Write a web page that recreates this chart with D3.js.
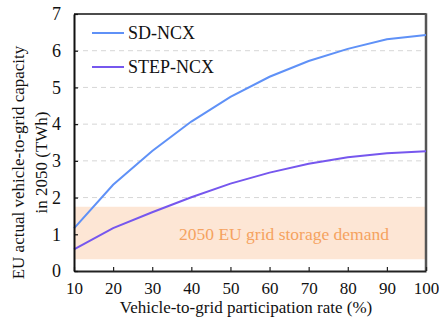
<!DOCTYPE html>
<html>
<head>
<meta charset="utf-8">
<script src="https://cdn.jsdelivr.net/npm/d3@7"></script>
</head>
<body style="margin:0;padding:0;background:#fff">
<svg id="chart" width="439" height="324" style="display:block;font-family:'Times New Roman',Tinos,'Liberation Serif',serif"></svg>
<script>
// Participation rates (%) and V2G capacity (TWh) for each scenario
const rates = [10, 20, 30, 40, 50, 60, 70, 80, 90, 100];
const sdNcx = [1.16, 2.35, 3.27, 4.07, 4.74, 5.29, 5.72, 6.05, 6.31, 6.43];
const stepNcx = [0.59, 1.17, 1.60, 2.01, 2.38, 2.68, 2.92, 3.10, 3.21, 3.26];
const seriesNames = ["SD-NCX", "STEP-NCX"];
const seriesColors = ["#5f91f7", "#7657ee"];
const yTicks = [0, 1, 2, 3, 4, 5, 6, 7];
// Grid storage demand range (TWh)
const demandRange = [0.32, 1.75];
const demandLabel = "2050 EU grid storage demand";

const SERIF = "'Times New Roman', Tinos, 'Liberation Serif', serif";
const svg = d3.select("#chart");
const m = { left: 74, right: 13, top: 14, bottom: 53 };
const W = 439, H = 324;
const x = d3.scaleLinear().domain([10, 100]).range([m.left, W - m.right]);
const y = d3.scaleLinear().domain([0, 7]).range([H - m.bottom, m.top]);

// dashed horizontal gridlines
svg.append("g").selectAll("line")
  .data(yTicks.filter(d => d > 0 && d < 7))
  .join("line")
  .attr("x1", x(10)).attr("x2", x(100))
  .attr("y1", d => y(d)).attr("y2", d => y(d))
  .attr("stroke", "#d6d6d6").attr("stroke-width", 1)
  .attr("stroke-dasharray", "5,4");

// demand band
svg.append("rect")
  .attr("x", x(10)).attr("width", x(100) - x(10))
  .attr("y", y(demandRange[1])).attr("height", y(demandRange[0]) - y(demandRange[1]))
  .attr("fill", "#fde6d5");
svg.append("text")
  .attr("x", 179).attr("y", y(0.84))
  .attr("font-size", 17.5)
  .style("font-family", SERIF)
  .attr("fill", "#f5a25f")
  .text(demandLabel);

// frame: top thin, right thick grey
svg.append("line").attr("x1", x(10)).attr("x2", x(100)).attr("y1", y(7)).attr("y2", y(7))
  .attr("stroke", "#111").attr("stroke-width", 1.5);
svg.append("line").attr("x1", x(100)).attr("x2", x(100)).attr("y1", y(7) - 0.75).attr("y2", y(0))
  .attr("stroke", "#555").attr("stroke-width", 2.5);

// lines
const line = d3.line().x((d, i) => x(rates[i])).y(d => y(d));
[sdNcx, stepNcx].forEach((s, k) => {
  svg.append("path").datum(s)
    .attr("d", line).attr("fill", "none")
    .attr("stroke", seriesColors[k]).attr("stroke-width", 2);
});

// axes
const xAxis = d3.axisBottom(x).tickValues(rates).tickFormat(d3.format("d"))
  .tickSizeInner(-4).tickSizeOuter(0).tickPadding(11);
const gx = svg.append("g").attr("transform", `translate(0,${y(0)})`).call(xAxis)
  .attr("font-family", null).attr("font-size", null);
gx.select(".domain").attr("stroke", "#222").attr("stroke-width", 2);
gx.selectAll(".tick line").attr("stroke", "#222").attr("stroke-width", 1.2);
gx.selectAll("text").attr("fill", "#111").attr("dy", "0.71em")
  .attr("font-size", 17).style("font-family", SERIF);

const yAxis = d3.axisLeft(y).tickValues(yTicks).tickFormat(d3.format("d"))
  .tickSizeInner(-4).tickSizeOuter(0).tickPadding(13);
const gy = svg.append("g").attr("transform", `translate(${x(10)},0)`).call(yAxis)
  .attr("font-family", null).attr("font-size", null);
gy.select(".domain").attr("stroke", "#111").attr("stroke-width", 2);
gy.selectAll(".tick line").attr("stroke", "#111").attr("stroke-width", 1.2);
gy.selectAll("text").attr("fill", "#111")
  .attr("font-size", 18).style("font-family", SERIF);

// axis titles
svg.append("text")
  .attr("x", 246).attr("y", 313)
  .attr("text-anchor", "middle").attr("fill", "#111")
  .attr("font-size", 17).style("font-family", SERIF)
  .text("Vehicle-to-grid participation rate (%)");
const yt = svg.append("text")
  .attr("transform", `translate(0,${(y(0) + y(7)) / 2 + 20}) rotate(-90)`)
  .attr("text-anchor", "middle").attr("fill", "#111")
  .attr("font-size", 17).style("font-family", SERIF);
yt.append("tspan").attr("x", 0).attr("y", 24).text("EU actual vehicle-to-grid capacity");
yt.append("tspan").attr("x", 0).attr("y", 47).text("in 2050 (TWh)");

// legend
const lg = svg.append("g");
seriesNames.forEach((n, k) => {
  const ly = 33 + k * 34;
  lg.append("line").attr("x1", 92).attr("x2", 124).attr("y1", ly).attr("y2", ly)
    .attr("stroke", seriesColors[k]).attr("stroke-width", 2);
  lg.append("text").attr("x", 128).attr("y", ly + 6)
    .attr("font-size", 18).style("font-family", SERIF)
    .attr("fill", "#111").text(n);
});
</script>
</body>
</html>
